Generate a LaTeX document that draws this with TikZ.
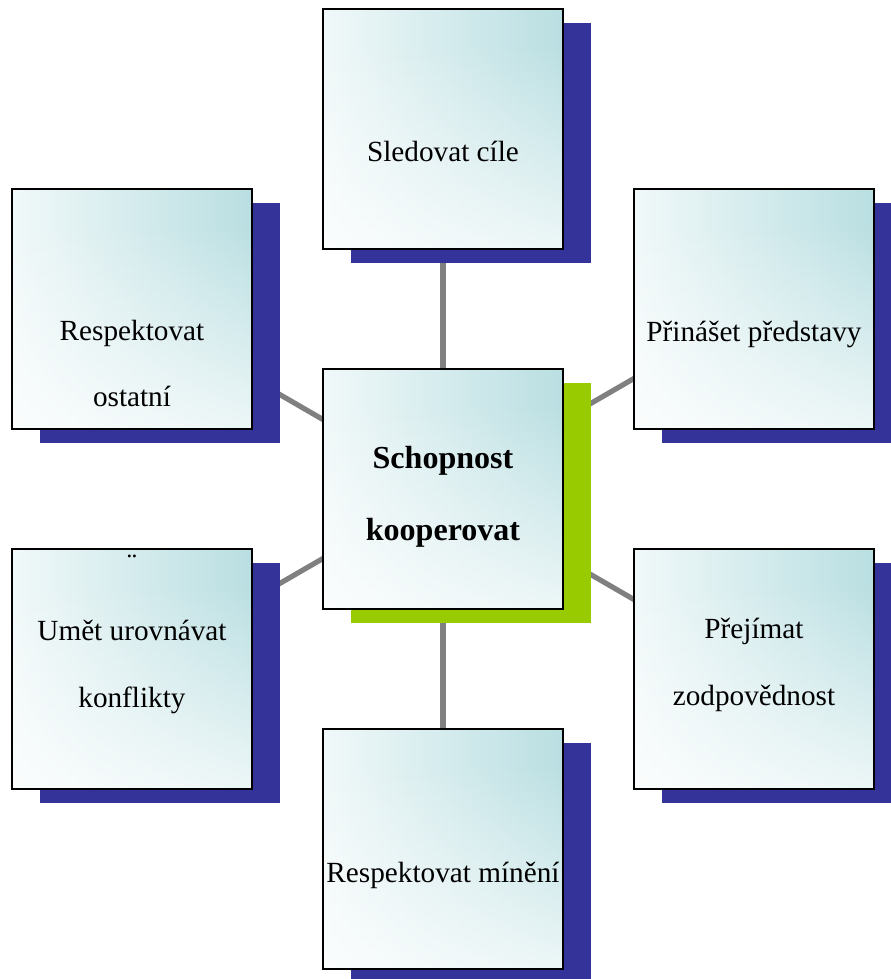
\documentclass[tikz,border=0pt]{standalone}
\usepackage{fontspec}
\setmainfont{Liberation Serif}
\usetikzlibrary{shadows,backgrounds,fadings}

\definecolor{cardteal}{RGB}{182,221,224}
\definecolor{shadowblue}{RGB}{51,51,153}
\definecolor{shadowgreen}{RGB}{153,204,0}
\definecolor{linkgrey}{RGB}{128,128,128}
% teal glow: white on the left, teal on the right, fading out towards the bottom
\pgfdeclarehorizontalshading{cardglow}{100bp}{%
  color(0bp)=(white); color(12bp)=(white); color(78bp)=(cardteal); color(100bp)=(cardteal)}
\pgfdeclareverticalshading{cardfadeshade}{100bp}{%
  color(0bp)=(black); color(10bp)=(black); color(68bp)=(white); color(100bp)=(white)}
\pgfdeclarefading{cardfade}{\pgfuseshading{cardfadeshade}}

\begin{document}
\begin{tikzpicture}[
  card/.style={draw=black, line width=1.4pt, rectangle, minimum size=6cm, fill=white,
    path picture={\shade[shading=cardglow, path fading=cardfade]
      (path picture bounding box.south west) rectangle (path picture bounding box.north east);},
    drop shadow={shadow xshift=0.7cm, shadow yshift=-0.35cm, fill=shadowblue, opacity=1}},
  hub/.style={draw=black, line width=1.4pt, rectangle, minimum size=6cm, fill=white,
    path picture={\shade[shading=cardglow, path fading=cardfade]
      (path picture bounding box.south west) rectangle (path picture bounding box.north east);},
    drop shadow={shadow xshift=0.7cm, shadow yshift=-0.35cm, fill=shadowgreen, opacity=1}},
  cardtext/.style={anchor=base, align=center, inner sep=0pt, font=\fontsize{20.8}{47.6}\selectfont},
  hubtext/.style={anchor=base, align=center, inner sep=0pt, font=\fontsize{22.8}{51.2}\selectfont\bfseries},
  link/.style={draw=linkgrey, line width=0.13cm}
]
\useasboundingbox (-11.075,-12.25) rectangle (11.175,12.225);

% Centre node
\node[hub] (hub) at (0,0) {};
\node[hubtext] (hub-text) at ([yshift=-1.275cm]hub.center) {Schopnost\\kooperovat};

% Outer cards (text anchored at the last line)
\node[card] (goals) at (0,9) {};
\node[cardtext] (goals-text) at ([yshift=-0.825cm]goals.center) {Sledovat cíle};

\node[card] (others) at (-7.775,4.5) {};
\node[cardtext] (others-text) at ([yshift=-2.45cm]others.center) {Respektovat\\ostatní};

\node[card] (ideas) at (7.775,4.5) {};
\node[cardtext] (ideas-text) at ([yshift=-0.825cm]ideas.center) {Přinášet představy};

\node[card] (conflicts) at (-7.775,-4.5) {};
\node[cardtext] (conflicts-text) at ([yshift=-0.95cm]conflicts.center) {¨\\Umět urovnávat\\konflikty};

\node[card] (duty) at (7.775,-4.5) {};
\node[cardtext] (duty-text) at ([yshift=-0.9cm]duty.center) {Přejímat\\zodpovědnost};

\node[card] (views) at (0,-9) {};
\node[cardtext] (views-text) at ([yshift=-0.825cm]views.center) {Respektovat mínění};

% Connectors
\begin{scope}[on background layer]
  \foreach \n in {goals,others,ideas,conflicts,duty,views}
    \draw[link] (hub.center) -- (\n.center);
\end{scope}
\end{tikzpicture}
\end{document}
